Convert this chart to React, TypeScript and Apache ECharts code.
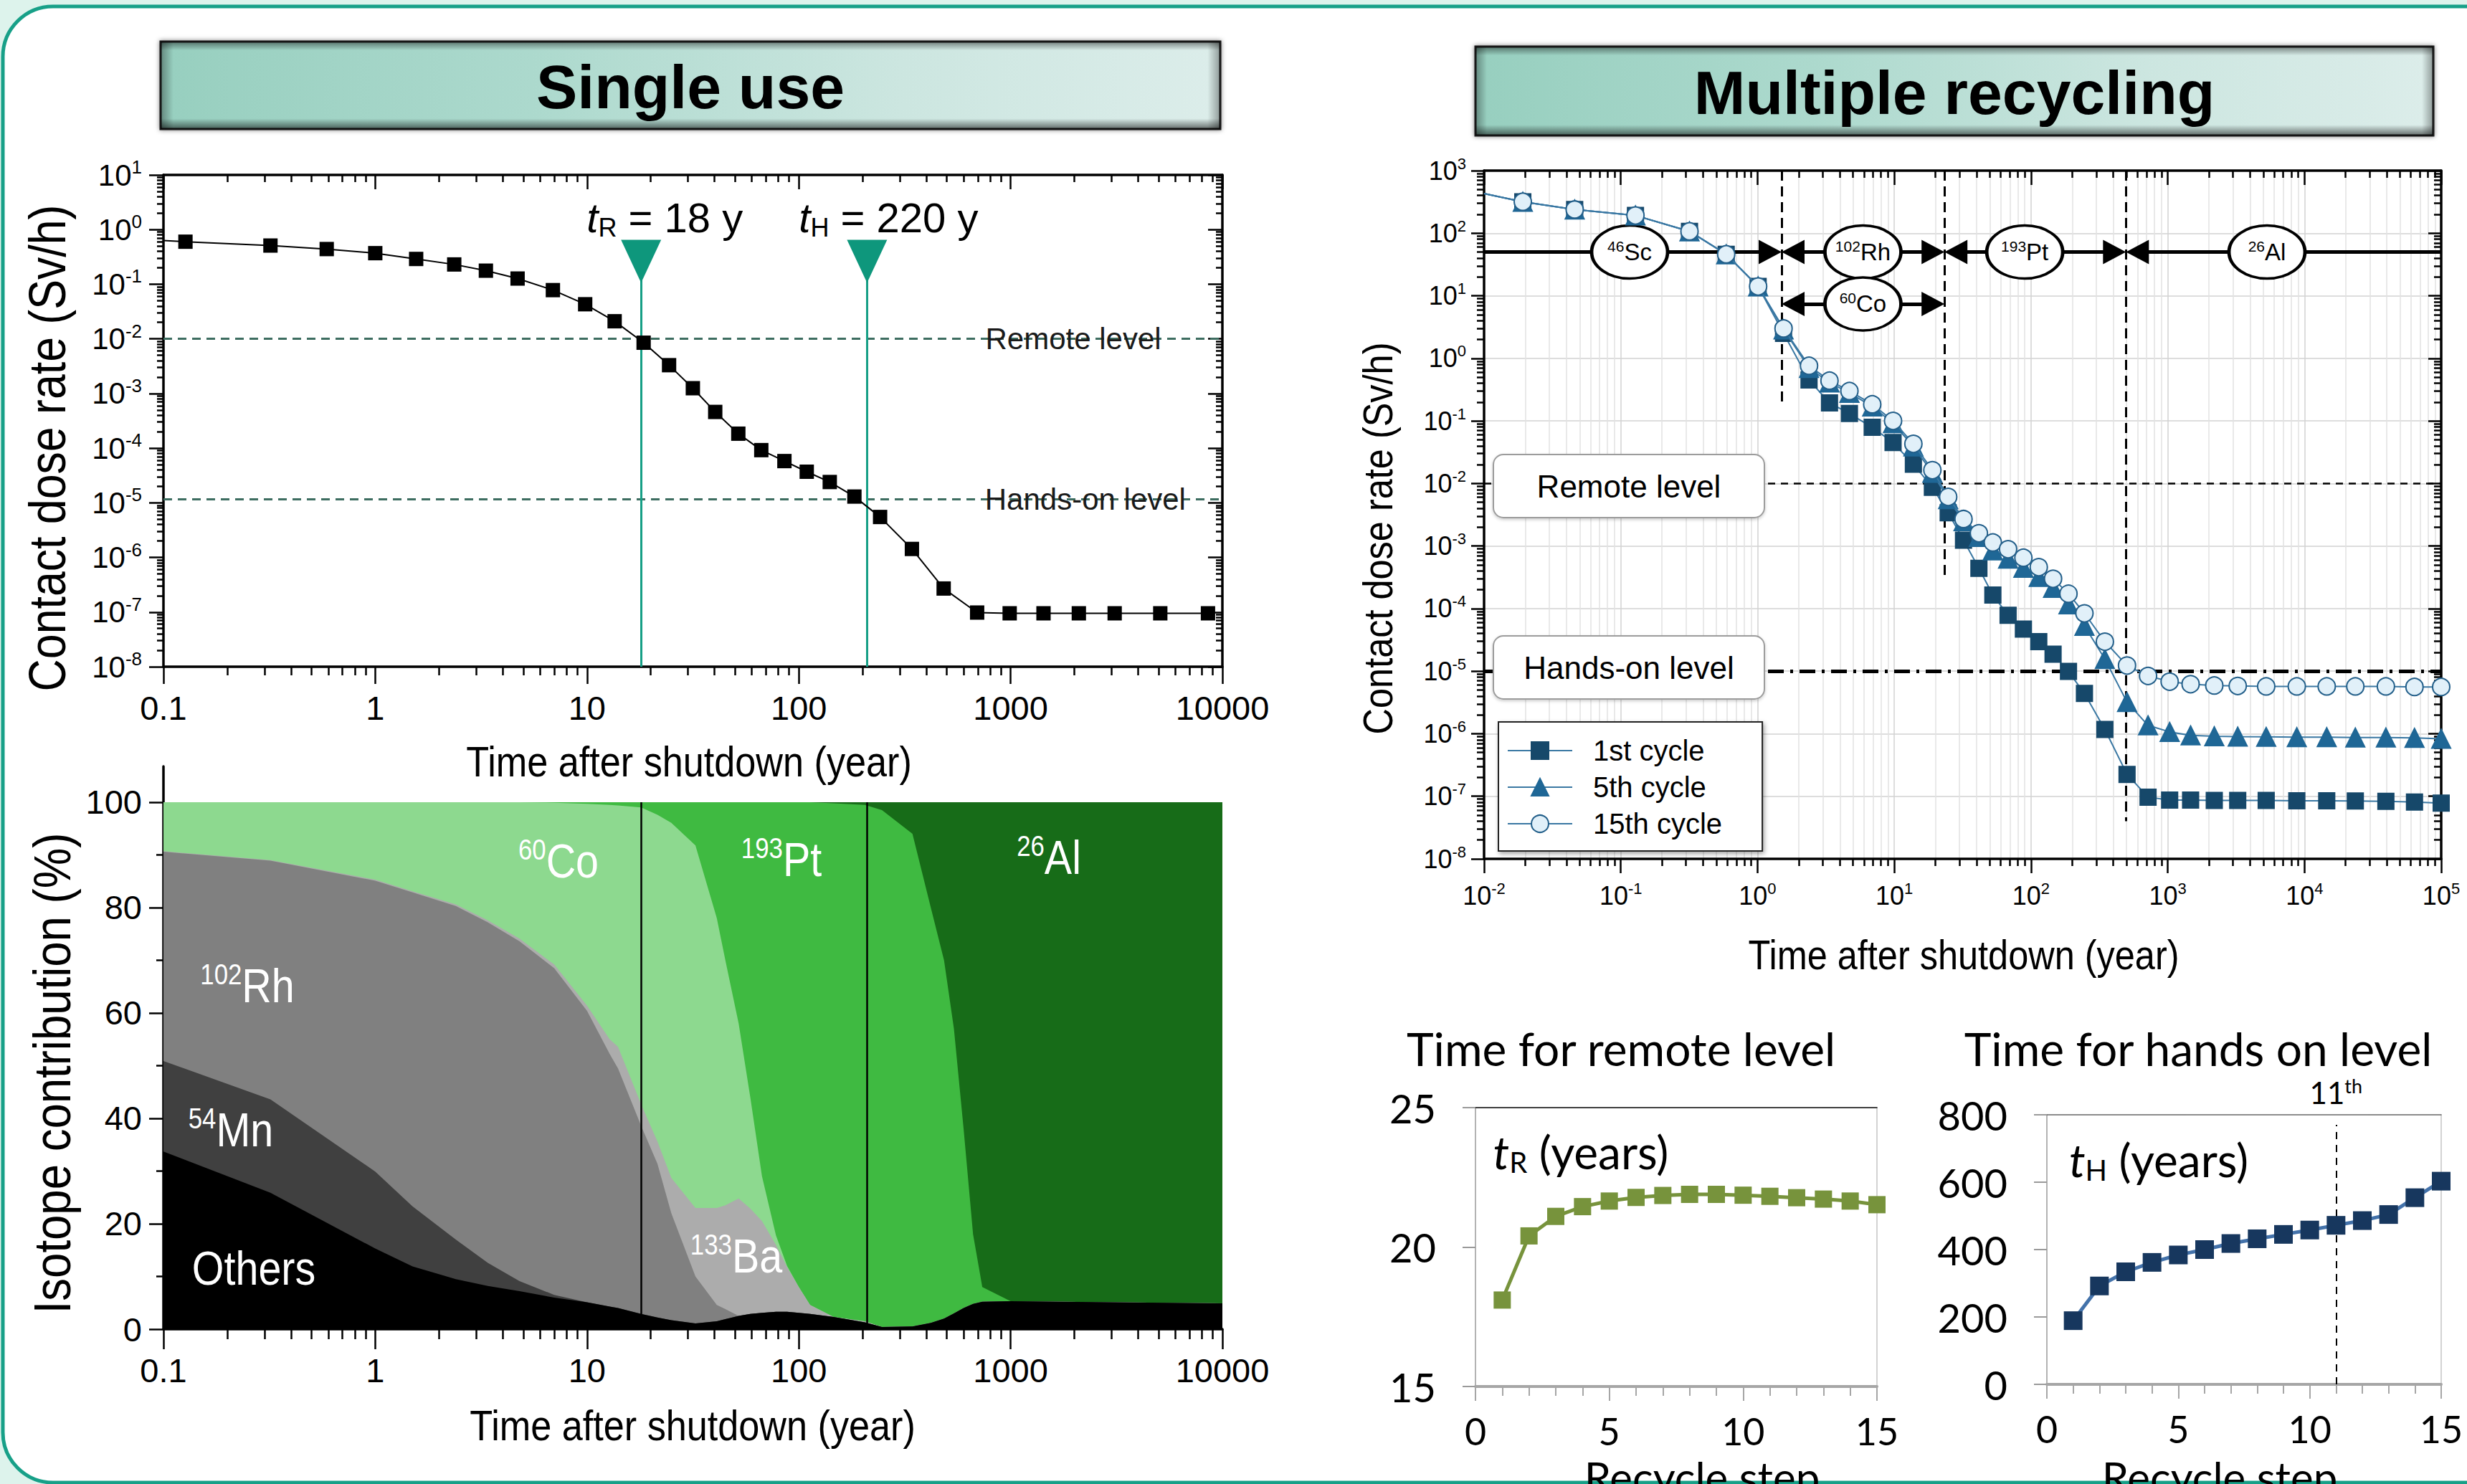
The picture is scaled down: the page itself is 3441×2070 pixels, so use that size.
import React, { useEffect, useRef } from 'react';
import * as echarts from 'echarts';

const W = 3441;
const H = 2070;

const ARIAL = "'Liberation Sans', Arial, Helvetica, sans-serif";
const CAL = "Lato, 'Open Sans', 'Noto Sans', sans-serif";
const CONDENSE = 0.87;

// ---------- Single use: contact dose rate (first point = line start at the axis, no marker) ----------
const SINGLE_TIME = [0.1, 0.127, 0.32, 0.59, 1.0, 1.56, 2.36, 3.33, 4.7, 6.9, 9.8, 13.5, 18.5, 24.4, 31.6, 40.3, 51.8, 66.5, 85.5, 109, 140, 183, 242, 342, 483, 695, 990, 1430, 2100, 3100, 5090, 8550];
const SINGLE_DOSE = [0.63, 0.6, 0.51, 0.44, 0.37, 0.29, 0.23, 0.177, 0.127, 0.078, 0.043, 0.021, 0.0085, 0.0033, 0.00125, 4.6e-4, 1.84e-4, 9.2e-5, 5.8e-5, 3.7e-5, 2.4e-5, 1.3e-5, 5.5e-6, 1.43e-6, 2.7e-7, 9.8e-8, 9.5e-8, 9.5e-8, 9.5e-8, 9.5e-8, 9.5e-8, 9.5e-8];
const REMOTE_LEVEL = 0.01;
const HANDS_ON_SINGLE = 1.17e-5;
const T_R_LINE = 18;
const T_H_LINE = 210;

// ---------- Isotope contribution (%) ----------
const ISO_TIME = [0.1, 0.32, 1, 1.5, 2.4, 3.4, 4.8, 7, 10, 12.8, 14, 18, 21.5, 25, 32.5, 41, 45, 52, 59, 67, 78, 88, 100, 113, 146, 205, 247, 344, 420, 485, 540, 600, 665, 735, 1000, 10000];
const ISO_OTHERS = [33.7, 25.9, 15.3, 11.9, 9.5, 8.2, 7.2, 6.0, 5.1, 4.3, 4.0, 2.9, 2.2, 1.7, 1.1, 1.5, 1.9, 2.5, 2.9, 3.1, 3.3, 3.3, 3.1, 2.9, 2.3, 1.3, 0.4, 0.5, 1.2, 2.0, 3.0, 4.0, 4.8, 5.2, 5.3, 4.9];
const ISO_MN54 = [17.2, 17.7, 14.6, 11.4, 7.5, 4.4, 1.9, 0.5, 0, 0, 0, 0, 0, 0, 0, 0, 0, 0, 0, 0, 0, 0, 0, 0, 0, 0, 0, 0, 0, 0, 0, 0, 0, 0, 0, 0];
const ISO_RH102 = [39.7, 45.3, 55.2, 59.6, 63.3, 64.6, 64.5, 62.0, 55.3, 47.9, 45.5, 35.7, 29.2, 20.3, 8.9, 3.1, 1.9, 0, 0, 0, 0, 0, 0, 0, 0, 0, 0, 0, 0, 0, 0, 0, 0, 0, 0, 0];
const ISO_BA133 = [0.1, 0.1, 0.2, 0.2, 0.3, 0.4, 0.5, 0.7, 1.0, 2.8, 4.1, 4.1, 4.2, 6.7, 13.0, 18.4, 19.7, 22.3, 20.0, 17.4, 12.7, 8.5, 4.9, 1.7, 0, 0.2, 0, 0, 0, 0, 0, 0, 0, 0, 0, 0];
const ISO_CO60 = [9.3, 11.0, 14.7, 16.9, 19.4, 22.4, 25.9, 30.7, 38.3, 44.5, 45.8, 56.3, 62.0, 67.4, 68.8, 55.0, 46.5, 33.2, 21.1, 8.5, 1.8, 0.2, 0, 0, 0, 0, 0, 0, 0, 0, 0, 0, 0, 0, 0, 0];
const ISO_PT193 = [0, 0, 0, 0, 0, 0, 0, 0.1, 0.3, 0.5, 0.6, 1.0, 2.4, 3.9, 8.2, 22.0, 30.0, 42.0, 56.0, 71.0, 82.2, 88.0, 92.0, 95.4, 97.5, 98.0, 98.1, 93.5, 78.8, 68.0, 54.0, 34.0, 13.2, 2.8, 0, 0];
const ISO_AL26 = [0, 0, 0, 0, 0, 0, 0, 0, 0, 0, 0, 0, 0, 0, 0, 0, 0, 0, 0, 0, 0, 0, 0, 0, 0.2, 0.5, 1.5, 6.0, 20, 30, 43, 62, 82, 92, 94.7, 95.1];

// ---------- Multiple recycling (first point = line start at the axis, no marker) ----------
const REC_TIME = [0.01, 0.0192, 0.046, 0.128, 0.318, 0.59, 1.01, 1.55, 2.38, 3.36, 4.7, 6.9, 9.8, 13.8, 19.0, 24.8, 32.1, 41.6, 52.6, 68, 88, 114, 145, 188, 246, 347, 504, 718, 1033, 1470, 2190, 3250, 5250, 8790, 14550, 23550, 39400, 63800, 100000];
const REC_1ST = [430, 318, 239, 192, 107, 46, 14.1, 2.5, 0.45, 0.194, 0.131, 0.079, 0.045, 0.0203, 0.0087, 0.0034, 0.00124, 4.4e-4, 1.65e-4, 7.8e-5, 4.7e-5, 2.96e-5, 1.87e-5, 9.9e-6, 4.4e-6, 1.17e-6, 2.24e-7, 9.7e-8, 8.7e-8, 8.7e-8, 8.6e-8, 8.6e-8, 8.6e-8, 8.5e-8, 8.5e-8, 8.4e-8, 8.3e-8, 8.1e-8, 7.8e-8];
const REC_5TH = [430, 318, 239, 192, 107, 46, 14.1, 2.9, 0.70, 0.41, 0.28, 0.17, 0.092, 0.039, 0.0148, 0.0056, 0.0025, 0.0014, 8.5e-4, 6.3e-4, 4.5e-4, 3.2e-4, 2.15e-4, 1.17e-4, 5.3e-5, 1.56e-5, 3.2e-6, 1.36e-6, 1.07e-6, 9.4e-7, 9.1e-7, 9.0e-7, 8.9e-7, 8.8e-7, 8.8e-7, 8.7e-7, 8.7e-7, 8.6e-7, 8.3e-7];
const REC_15TH = [430, 318, 239, 192, 107, 46, 14.1, 3.0, 0.76, 0.44, 0.30, 0.184, 0.100, 0.043, 0.0163, 0.0061, 0.0027, 0.0016, 0.00114, 8.9e-4, 6.5e-4, 4.6e-4, 3.0e-4, 1.73e-4, 8.4e-5, 2.96e-5, 1.23e-5, 8.4e-6, 6.8e-6, 6.2e-6, 5.9e-6, 5.8e-6, 5.7e-6, 5.7e-6, 5.7e-6, 5.7e-6, 5.7e-6, 5.6e-6, 5.6e-6];
const HANDS_ON_REC = 1e-5;
const PHASE_BOUNDS = [1.5, 23.3, 495];
const PHASE_LINE_ENDS = [0.175, 3.2e-4, 4e-8];
const ARROW_LEVEL = 50;
const CO_LEVEL = 7.4;
const ISOTOPE_TAGS = [
  { sup: '46', el: 'Sc', x: 0.116, y: ARROW_LEVEL },
  { sup: '102', el: 'Rh', x: 5.9, y: ARROW_LEVEL },
  { sup: '60', el: 'Co', x: 5.9, y: CO_LEVEL },
  { sup: '193', el: 'Pt', x: 90, y: ARROW_LEVEL },
  { sup: '26', el: 'Al', x: 5320, y: ARROW_LEVEL },
];

// ---------- Recycle steps ----------
const STEPS = [1, 2, 3, 4, 5, 6, 7, 8, 9, 10, 11, 12, 13, 14, 15];
const T_REMOTE = [18.1, 20.4, 21.1, 21.45, 21.65, 21.78, 21.85, 21.89, 21.89, 21.86, 21.82, 21.77, 21.72, 21.65, 21.52];
const T_HANDS = [189, 292, 334, 362, 384, 400, 418, 432, 445, 458, 472, 486, 504, 554, 603];
const STEP_MARK = 11;

// layout of the recycling plot (pixels), used to set the arrowheads' tips on the boundaries
const REC_GRID = { left: 2070, top: 238, width: 1335, height: 960 };
const ARROW_LEN = 32;
const ARROW_SHIFT = Math.pow(10, (ARROW_LEN / 2) / (REC_GRID.width / 7));

// ---------- helpers ----------
function majorLog(lo: number, hi: number) {
  const out: number[] = [];
  for (let e = lo; e <= hi; e++) out.push(Number(Math.pow(10, e).toPrecision(6)));
  return out;
}
function minorLog(lo: number, hi: number) {
  const out: number[] = [];
  for (let e = lo; e < hi; e++) for (let m = 2; m <= 9; m++) out.push(Number((m * Math.pow(10, e)).toPrecision(6)));
  return out;
}
const decLabel = (v: number) => {
  const e = Math.round(Math.log10(v));
  return e < 0 ? '0.' + '0'.repeat(-e - 1) + '1' : '1' + '0'.repeat(e);
};
const powLabel = (v: number) => `{b|10}{s|${Math.round(Math.log10(v))}}`;

function ax(type: 'log' | 'value', gridIndex: number, min: number, max: number, position: string, o: any) {
  const a: any = {
    type, gridIndex, min, max, position,
    axisLine: { show: !!o.line, onZero: false, lineStyle: { color: o.lineColor || '#000', width: o.lineWidth || 3.5 } },
    axisTick: o.ticks
      ? { show: true, customValues: o.ticks, inside: !!o.inside, length: o.len || 10, lineStyle: { color: o.tickColor || '#000', width: o.tickWidth || 2.5 } }
      : { show: false },
    axisLabel: o.labels
      ? { show: true, customValues: o.labels, margin: o.margin ?? 8, formatter: o.formatter, rich: o.rich, fontSize: o.fontSize, fontFamily: o.fontFamily, color: '#000' }
      : { show: false },
    splitLine: o.split ? { show: true, lineStyle: { color: o.split, width: o.splitWidth || 1.5 } } : { show: false },
    splitArea: { show: false },
    silent: true,
  };
  if (type === 'log') a.logBase = 10;
  return a;
}

const richL = {
  b: { fontSize: 42, fontFamily: ARIAL, lineHeight: 48, color: '#000' },
  s: { fontSize: 26, fontFamily: ARIAL, lineHeight: 10, verticalAlign: 'top', color: '#000' },
};
const richR = {
  b: { fontSize: 36, fontFamily: ARIAL, lineHeight: 42, color: '#000' },
  s: { fontSize: 22, fontFamily: ARIAL, lineHeight: 8, verticalAlign: 'top', color: '#000' },
};

function txt(x: number, y: number, text: string, size: number, family: string, extra: any = {}) {
  return {
    type: 'text', x, y, rotation: extra.rotation || 0, scaleX: extra.scaleX || 1, z: extra.z ?? 20,
    style: {
      text, fontSize: size, fontFamily: family, fontWeight: extra.weight || 'normal', fontStyle: extra.fontStyle || 'normal',
      fill: extra.fill || '#000', align: extra.align || 'center', verticalAlign: extra.va || 'middle',
      textAlign: extra.align || 'center', textVerticalAlign: extra.va || 'middle', rich: extra.rich,
    },
  };
}

function header(x: number, y: number, w: number, h: number, label: string) {
  return [
    {
      type: 'rect', z: 15, shape: { x, y, width: w, height: h },
      style: {
        fill: new echarts.graphic.LinearGradient(0, 0, 1, 0, [
          { offset: 0, color: '#97cfbf' }, { offset: 0.35, color: '#acd9cd' }, { offset: 0.7, color: '#cce6e0' }, { offset: 1, color: '#dcedea' },
        ]),
        stroke: '#1c1c1c', lineWidth: 3, shadowBlur: 6, shadowColor: 'rgba(0,0,0,0.5)',
      },
    },
    {
      type: 'rect', z: 16, shape: { x, y, width: w, height: h },
      style: {
        fill: new echarts.graphic.LinearGradient(0, 0, 0, 1, [
          { offset: 0, color: 'rgba(0,0,0,0.45)' }, { offset: 0.1, color: 'rgba(0,0,0,0)' },
          { offset: 0.88, color: 'rgba(0,0,0,0)' }, { offset: 1, color: 'rgba(0,0,0,0.55)' },
        ]),
      },
    },
    {
      type: 'rect', z: 16, shape: { x, y, width: w, height: h },
      style: {
        fill: new echarts.graphic.LinearGradient(0, 0, 1, 0, [
          { offset: 0, color: 'rgba(0,0,0,0.35)' }, { offset: 0.012, color: 'rgba(0,0,0,0)' },
          { offset: 0.988, color: 'rgba(0,0,0,0)' }, { offset: 1, color: 'rgba(0,0,0,0.35)' },
        ]),
      },
    },
    txt(x + w / 2, y + h / 2 + 2, label, 86, ARIAL, { weight: 'bold', z: 17 }),
  ];
}

function levelBox(x: number, y: number, w: number, h: number, label: string) {
  return [
    { type: 'rect', z: 12, shape: { x, y, width: w, height: h, r: 14 }, style: { fill: '#fff', stroke: '#9c9c9c', lineWidth: 2, shadowBlur: 4, shadowColor: 'rgba(0,0,0,0.2)', shadowOffsetY: 2 } },
    txt(x + w / 2, y + h / 2, label, 44, ARIAL, { z: 13 }),
  ];
}

function isoText(x: number, y: number, sup: string, el: string) {
  const rich = {
    s: { fontSize: 40, fontFamily: ARIAL, lineHeight: 14, verticalAlign: 'top', fill: '#fff', color: '#fff' },
    b: { fontSize: 66, fontFamily: ARIAL, lineHeight: 72, fill: '#fff', color: '#fff' },
  };
  return txt(x, y, `{s|${sup}}{b|${el}}`, 66, ARIAL, { rich, fill: '#fff', z: 8, scaleX: CONDENSE });
}

const ELLIPSE = 'path://M0,1A1,1,0,1,1,2,1A1,1,0,1,1,0,1Z';

function buildOption() {
  const xAxis: any[] = [
    // grid 0
    ax('log', 0, 0.1, 10000, 'bottom', { line: true, ticks: majorLog(-1, 4), len: 24, labels: majorLog(-1, 4), margin: 34, formatter: decLabel, fontSize: 47, fontFamily: ARIAL }),
    ax('log', 0, 0.1, 10000, 'bottom', { ticks: minorLog(-1, 4), len: 12 }),
    ax('log', 0, 0.1, 10000, 'top', { line: true, ticks: majorLog(-1, 4), len: 20, inside: true }),
    ax('log', 0, 0.1, 10000, 'top', { ticks: minorLog(-1, 4), len: 10, inside: true }),
    // grid 1
    ax('log', 1, 0.1, 10000, 'bottom', { line: true, ticks: majorLog(-1, 4), len: 28, labels: majorLog(-1, 4), margin: 34, formatter: decLabel, fontSize: 47, fontFamily: ARIAL }),
    ax('log', 1, 0.1, 10000, 'bottom', { ticks: minorLog(-1, 4), len: 14 }),
    // grid 2
    ax('log', 2, 0.01, 100000, 'bottom', { line: true, ticks: majorLog(-2, 5), len: 20, labels: majorLog(-2, 5), margin: 30, formatter: powLabel, rich: richR, split: '#d2d2d2' }),
    ax('log', 2, 0.01, 100000, 'bottom', { ticks: minorLog(-2, 5), len: 10, split: '#e2e2e2' }),
    ax('log', 2, 0.01, 100000, 'top', { line: true, ticks: majorLog(-2, 5), len: 20, inside: true }),
    ax('log', 2, 0.01, 100000, 'top', { ticks: minorLog(-2, 5), len: 10, inside: true }),
    // grid 3
    ax('value', 3, 0, 15, 'bottom', { line: true, lineColor: '#a6a6a6', lineWidth: 4, ticks: [0, 5, 10, 15], len: 20, tickColor: '#a6a6a6', tickWidth: 2, labels: [0, 5, 10, 15], margin: 36, fontSize: 52, fontFamily: CAL }),
    ax('value', 3, 0, 15, 'bottom', { ticks: STEPS, len: 13, tickColor: '#a6a6a6', tickWidth: 2 }),
    ax('value', 3, 0, 15, 'top', { line: true, lineColor: '#000', lineWidth: 1.5 }),
    // grid 4
    ax('value', 4, 0, 15, 'bottom', { line: true, lineColor: '#a6a6a6', lineWidth: 4, ticks: [0, 5, 10, 15], len: 20, tickColor: '#a6a6a6', tickWidth: 2, labels: [0, 5, 10, 15], margin: 36, fontSize: 52, fontFamily: CAL }),
    ax('value', 4, 0, 15, 'bottom', { ticks: STEPS, len: 13, tickColor: '#a6a6a6', tickWidth: 2 }),
    ax('value', 4, 0, 15, 'top', { line: true, lineColor: '#666', lineWidth: 1.5 }),
  ];
  const yAxis: any[] = [
    // grid 0
    ax('log', 0, 1e-8, 10, 'left', { line: true, ticks: majorLog(-8, 1), len: 20, labels: majorLog(-8, 1), margin: 30, formatter: powLabel, rich: richL }),
    ax('log', 0, 1e-8, 10, 'left', { ticks: minorLog(-8, 1), len: 9 }),
    ax('log', 0, 1e-8, 10, 'right', { line: true, ticks: majorLog(-8, 1), len: 20, inside: true }),
    ax('log', 0, 1e-8, 10, 'right', { ticks: minorLog(-8, 1), len: 9, inside: true }),
    // grid 1
    ax('value', 1, 0, 106.8, 'left', { line: true, ticks: [0, 20, 40, 60, 80, 100], len: 20, labels: [0, 20, 40, 60, 80, 100], margin: 30, fontSize: 47, fontFamily: ARIAL }),
    ax('value', 1, 0, 106.8, 'left', { ticks: [10, 30, 50, 70, 90], len: 10 }),
    // grid 2
    ax('log', 2, 1e-8, 1000, 'left', { line: true, ticks: majorLog(-8, 3), len: 18, labels: majorLog(-8, 3), margin: 25, formatter: powLabel, rich: richR, split: '#d2d2d2' }),
    ax('log', 2, 1e-8, 1000, 'left', { ticks: minorLog(-8, 3), len: 10 }),
    ax('log', 2, 1e-8, 1000, 'right', { line: true, ticks: majorLog(-8, 3), len: 18, inside: true }),
    ax('log', 2, 1e-8, 1000, 'right', { ticks: minorLog(-8, 3), len: 10, inside: true }),
    // grid 3
    ax('value', 3, 15, 25, 'left', { line: true, lineColor: '#9a9a9a', lineWidth: 1.5, ticks: [15, 20, 25], len: 18, tickColor: '#9a9a9a', tickWidth: 2, labels: [15, 20, 25], margin: 55, fontSize: 56, fontFamily: CAL }),
    ax('value', 3, 15, 25, 'right', { line: true, lineColor: '#c4c4c4', lineWidth: 1.5 }),
    // grid 4
    ax('value', 4, 0, 800, 'left', { line: true, lineColor: '#9a9a9a', lineWidth: 1.5, ticks: [0, 200, 400, 600, 800], len: 18, tickColor: '#9a9a9a', tickWidth: 2, labels: [0, 200, 400, 600, 800], margin: 55, fontSize: 56, fontFamily: CAL }),
    ax('value', 4, 0, 800, 'right', { line: true, lineColor: '#c4c4c4', lineWidth: 1.5 }),
  ];

  const series: any[] = [];

  // ---- single use ----
  series.push({
    type: 'line', name: 'Single use', xAxisIndex: 0, yAxisIndex: 0, z: 6, silent: true,
    symbol: 'rect', symbolSize: 20, itemStyle: { color: '#000' }, lineStyle: { color: '#000', width: 2 },
    data: SINGLE_TIME.map((t, i) => (i === 0 ? { value: [t, SINGLE_DOSE[i]], symbol: 'none' } : [t, SINGLE_DOSE[i]])),
  });
  const teal = '#169f86';
  const labelRichT = {
    i: { fontSize: 58, fontFamily: ARIAL, fontStyle: 'italic', lineHeight: 64, color: '#000' },
    sb: { fontSize: 36, fontFamily: ARIAL, lineHeight: 14, verticalAlign: 'bottom', color: '#000' },
    n: { fontSize: 58, fontFamily: ARIAL, lineHeight: 64, color: '#000' },
  };
  const levelLabel = (text: string) => ({ show: true, position: 'inside', formatter: text, fontSize: 42, fontFamily: ARIAL, color: '#1a1a1a' });
  series.push({
    type: 'line', name: 'single-annot', xAxisIndex: 0, yAxisIndex: 0, data: [], silent: true,
    markLine: {
      silent: true, z: 4, precision: 12, symbol: ['none', 'none'], label: { show: false },
      data: [
        { yAxis: REMOTE_LEVEL, lineStyle: { color: '#3d6d60', type: [12, 8], width: 3 } },
        { yAxis: HANDS_ON_SINGLE, lineStyle: { color: '#3d6d60', type: [12, 8], width: 3 } },
        [{ coord: [T_R_LINE, 1e-8], lineStyle: { color: teal, width: 3, type: 'solid' } }, { coord: [T_R_LINE, 0.12] }],
        [{ coord: [T_H_LINE, 1e-8], lineStyle: { color: teal, width: 3, type: 'solid' } }, { coord: [T_H_LINE, 0.12] }],
      ],
    },
    markPoint: {
      silent: true, z: 5,
      data: [
        { coord: [T_R_LINE, 0.263], symbol: 'triangle', symbolRotate: 180, symbolSize: [56, 60], itemStyle: { color: '#0e977c' }, label: { show: false } },
        { coord: [T_H_LINE, 0.263], symbol: 'triangle', symbolRotate: 180, symbolSize: [56, 60], itemStyle: { color: '#0e977c' }, label: { show: false } },
        { coord: [T_R_LINE, 1.68], symbol: 'circle', symbolSize: 1, itemStyle: { color: 'rgba(0,0,0,0)' }, label: { show: true, position: 'inside', offset: [33, 0], formatter: '{i|t}{sb|R}{n| = 18 y}', rich: labelRichT } },
        { coord: [T_H_LINE, 1.68], symbol: 'circle', symbolSize: 1, itemStyle: { color: 'rgba(0,0,0,0)' }, label: { show: true, position: 'inside', offset: [30, 0], formatter: '{i|t}{sb|H}{n| = 220 y}', rich: labelRichT } },
        { coord: [1977, REMOTE_LEVEL], symbol: 'circle', symbolSize: 1, itemStyle: { color: 'rgba(0,0,0,0)' }, label: levelLabel('Remote level') },
        { coord: [2254, HANDS_ON_SINGLE], symbol: 'circle', symbolSize: 1, itemStyle: { color: 'rgba(0,0,0,0)' }, label: levelLabel('Hands-on level') },
      ],
    },
  });

  // ---- isotope contribution: cumulative layers drawn top-down, each filled to 0 ----
  const layers = [
    { name: 'Others', color: '#000000', data: ISO_OTHERS },
    { name: '54Mn', color: '#404040', data: ISO_MN54 },
    { name: '102Rh', color: '#808080', data: ISO_RH102 },
    { name: '133Ba', color: '#acacac', data: ISO_BA133 },
    { name: '60Co', color: '#8dd98f', data: ISO_CO60 },
    { name: '193Pt', color: '#3fba41', data: ISO_PT193 },
    { name: '26Al', color: '#176c18', data: ISO_AL26 },
  ];
  const cumulative = layers.map((_, k) => ISO_TIME.map((__, i) => {
    let s = 0;
    for (let j = 0; j <= k; j++) s += layers[j].data[i];
    return Math.min(100, Number(s.toFixed(3)));
  }));
  for (let k = layers.length - 1; k >= 0; k--) {
    series.push({
      type: 'line', name: layers[k].name, xAxisIndex: 4, yAxisIndex: 4, symbol: 'none', silent: true, z: 2,
      lineStyle: { width: 0, opacity: 0 }, areaStyle: { color: layers[k].color, opacity: 1, origin: 'start' },
      data: ISO_TIME.map((t, i) => [t, cumulative[k][i]]),
    });
  }
  series.push({
    type: 'line', name: 'iso-annot', xAxisIndex: 4, yAxisIndex: 4, data: [], silent: true,
    markLine: {
      silent: true, symbol: ['none', 'none'], label: { show: false }, lineStyle: { color: '#000', width: 2.5, type: 'solid' },
      data: [
        [{ coord: [T_R_LINE, 0] }, { coord: [T_R_LINE, 100] }],
        [{ coord: [T_H_LINE, 0] }, { coord: [T_H_LINE, 100] }],
      ],
    },
  });

  // ---- multiple recycling ----
  const cycles = [
    { name: '1st cycle', data: REC_1ST, symbol: 'rect', size: 22, color: '#16486a', border: '#16486a' },
    { name: '5th cycle', data: REC_5TH, symbol: 'triangle', size: 26, color: '#1f6796', border: '#1f6796' },
    { name: '15th cycle', data: REC_15TH, symbol: 'circle', size: 24, color: '#e1f0f9', border: '#235f8a' },
  ];
  cycles.forEach((c, k) => {
    series.push({
      type: 'line', name: c.name, xAxisIndex: 6, yAxisIndex: 6, z: 6 + k, silent: true,
      symbol: c.symbol, symbolSize: c.size,
      itemStyle: { color: c.color, borderColor: c.border, borderWidth: 2 },
      lineStyle: { color: '#3a78a3', width: 2 },
      data: REC_TIME.map((t, i) => (i === 0 ? { value: [t, c.data[i]], symbol: 'none' } : [t, c.data[i]])),
    });
  });
  const arrowStyle = { color: '#000', width: 5, type: 'solid' };
  const [b1, b2, b3] = PHASE_BOUNDS;
  const k = ARROW_SHIFT;
  const tagRich = {
    s: { fontSize: 21, fontFamily: ARIAL, lineHeight: 6, verticalAlign: 'top', color: '#000' },
    b: { fontSize: 33, fontFamily: ARIAL, lineHeight: 38, color: '#000' },
  };
  series.push({
    type: 'line', name: 'rec-annot', xAxisIndex: 6, yAxisIndex: 6, data: [], silent: true,
    markLine: {
      silent: true, z: 4, precision: 12, symbol: ['none', 'none'], symbolSize: [34, ARROW_LEN], label: { show: false },
      data: [
        { yAxis: REMOTE_LEVEL, lineStyle: { color: '#000', type: [10, 8], width: 2.5 } },
        { yAxis: HANDS_ON_REC, lineStyle: { color: '#000', type: [22, 9, 4, 9], width: 5 } },
        ...PHASE_BOUNDS.map((b, i) => [
          { coord: [b, 1000], lineStyle: { color: '#000', type: [14, 8], width: 3 } },
          { coord: [b, PHASE_LINE_ENDS[i]] },
        ]),
        [{ coord: [0.01, ARROW_LEVEL], symbol: 'none', lineStyle: arrowStyle }, { coord: [b1 / k, ARROW_LEVEL], symbol: 'triangle' }],
        [{ coord: [b1 * k, ARROW_LEVEL], symbol: 'triangle', lineStyle: arrowStyle }, { coord: [b2 / k, ARROW_LEVEL], symbol: 'triangle' }],
        [{ coord: [b1 * k, CO_LEVEL], symbol: 'triangle', lineStyle: arrowStyle }, { coord: [b2 / k, CO_LEVEL], symbol: 'triangle' }],
        [{ coord: [b2 * k, ARROW_LEVEL], symbol: 'triangle', lineStyle: arrowStyle }, { coord: [b3 / k, ARROW_LEVEL], symbol: 'triangle' }],
        [{ coord: [b3 * k, ARROW_LEVEL], symbol: 'triangle', lineStyle: arrowStyle }, { coord: [100000, ARROW_LEVEL], symbol: 'none' }],
      ],
    },
    markPoint: {
      silent: true, z: 5,
      data: ISOTOPE_TAGS.map((t) => ({
        coord: [t.x, t.y], symbol: ELLIPSE, symbolSize: [106, 74],
        itemStyle: { color: '#fff', borderColor: '#000', borderWidth: 4 },
        label: { show: true, position: 'inside', formatter: `{s|${t.sup}}{b|${t.el}}`, rich: tagRich },
      })),
    },
  });

  // ---- recycle steps ----
  series.push({
    type: 'line', name: 'tR', xAxisIndex: 10, yAxisIndex: 10, z: 6, silent: true,
    symbol: 'rect', symbolSize: 24, itemStyle: { color: '#77933c' }, lineStyle: { color: '#77933c', width: 5 },
    data: STEPS.map((s, i) => [s, T_REMOTE[i]]),
  });
  series.push({
    type: 'line', name: 'tH', xAxisIndex: 13, yAxisIndex: 12, z: 6, silent: true,
    symbol: 'rect', symbolSize: 26, itemStyle: { color: '#17375e' }, lineStyle: { color: '#4372aa', width: 5 },
    data: STEPS.map((s, i) => [s, T_HANDS[i]]),
    markLine: {
      silent: true, symbol: ['none', 'none'], label: { show: false }, z: 4,
      data: [[{ coord: [STEP_MARK, 0], lineStyle: { color: '#000', type: [10, 8], width: 2 } }, { coord: [STEP_MARK, 770] }]],
    },
    markPoint: {
      silent: true,
      data: [{
        coord: [STEP_MARK, 800], symbol: 'circle', symbolSize: 1, itemStyle: { color: 'rgba(0,0,0,0)' },
        label: {
          show: true, position: 'top', distance: 8, formatter: `{n|${STEP_MARK}}{s|th}`,
          rich: {
            n: { fontSize: 42, fontFamily: CAL, lineHeight: 46, color: '#000' },
            s: { fontSize: 27, fontFamily: CAL, lineHeight: 10, verticalAlign: 'top', color: '#000' },
          },
        },
      }],
    },
  });

  const richTY = (sub: string) => ({
    text: `{i|t}{sb|${sub}}{n| (years)}`,
    rich: {
      i: { fontSize: 64, fontFamily: CAL, fontStyle: 'italic', lineHeight: 70, fill: '#000', color: '#000' },
      sb: { fontSize: 40, fontFamily: CAL, lineHeight: 16, verticalAlign: 'bottom', fill: '#000', color: '#000' },
      n: { fontSize: 64, fontFamily: CAL, lineHeight: 70, fill: '#000', color: '#000' },
    },
  });
  const tr = richTY('R');
  const th = richTY('H');

  const graphic: any[] = [
    { type: 'rect', z: -100, shape: { x: 4, y: 9, width: 3700, height: 2059, r: 70 }, style: { fill: '#fff', stroke: '#17a088', lineWidth: 5 } },
    ...header(224, 58, 1478, 122, 'Single use'),
    ...header(2058, 65, 1336, 124, 'Multiple recycling'),
    txt(66, 625, 'Contact dose rate (Sv/h)', 72, ARIAL, { rotation: Math.PI / 2, scaleX: CONDENSE }),
    txt(961, 1062, 'Time after shutdown (year)', 60, ARIAL, { scaleX: CONDENSE }),
    txt(72, 1497, 'Isotope contribution (%)', 73, ARIAL, { rotation: Math.PI / 2, scaleX: CONDENSE }),
    txt(966, 1988, 'Time after shutdown (year)', 60, ARIAL, { scaleX: CONDENSE }),
    txt(1922, 751, 'Contact dose rate (Sv/h)', 58, ARIAL, { rotation: Math.PI / 2, scaleX: CONDENSE }),
    txt(2739, 1332, 'Time after shutdown (year)', 58, ARIAL, { scaleX: CONDENSE }),
    ...levelBox(2083, 634, 378, 88, 'Remote level'),
    ...levelBox(2083, 887, 378, 88, 'Hands-on level'),
    txt(354, 1769, 'Others', 66, ARIAL, { fill: '#fff', z: 8, scaleX: CONDENSE }),
    isoText(322, 1576, '54', 'Mn'),
    isoText(345, 1375, '102', 'Rh'),
    isoText(779, 1201, '60', 'Co'),
    isoText(1090, 1199, '193', 'Pt'),
    isoText(1463, 1196, '26', 'Al'),
    isoText(1027, 1752, '133', 'Ba'),
    txt(2261, 1462, 'Time for remote level', 64, CAL),
    txt(3066, 1462, 'Time for hands on level', 64, CAL),
    txt(2205, 1606, tr.text, 64, CAL, { rich: tr.rich }),
    txt(3011, 1617, th.text, 64, CAL, { rich: th.rich }),
    txt(2374, 2030, 'Recycle step', 60, CAL, { va: 'top' }),
    txt(3096, 2030, 'Recycle step', 60, CAL, { va: 'top' }),
  ];

  return {
    animation: false,
    backgroundColor: '#ddf3ec',
    textStyle: { fontFamily: ARIAL },
    grid: [
      { left: 228, top: 244, width: 1477, height: 686 },
      { left: 228, top: 1069, width: 1477, height: 785 },
      { ...REC_GRID },
      { left: 2058, top: 1545, width: 560, height: 389 },
      { left: 2855, top: 1555, width: 550, height: 376 },
    ],
    xAxis, yAxis, series, graphic,
    legend: {
      data: ['1st cycle', '5th cycle', '15th cycle'], orient: 'vertical', left: 2090, top: 1007,
      itemWidth: 90, itemHeight: 30, itemGap: 11, padding: [20, 56, 18, 12], selectedMode: false,
      backgroundColor: '#fff', borderColor: '#222', borderWidth: 2,
      shadowBlur: 6, shadowColor: 'rgba(0,0,0,0.35)', shadowOffsetX: 2, shadowOffsetY: 3,
      textStyle: { fontSize: 40, lineHeight: 32, fontFamily: ARIAL, color: '#000', padding: [0, 0, 0, 24] }, z: 10,
    },
  };
}

export default function App() {
  const ref = useRef<HTMLDivElement>(null);
  useEffect(() => {
    const chart = echarts.init(ref.current!, null, { renderer: 'svg', width: W, height: H });
    chart.setOption(buildOption() as any);
    return () => chart.dispose();
  }, []);
  return <div ref={ref} style={{ position: 'absolute', left: 0, top: 0, width: W, height: H }} />;
}
